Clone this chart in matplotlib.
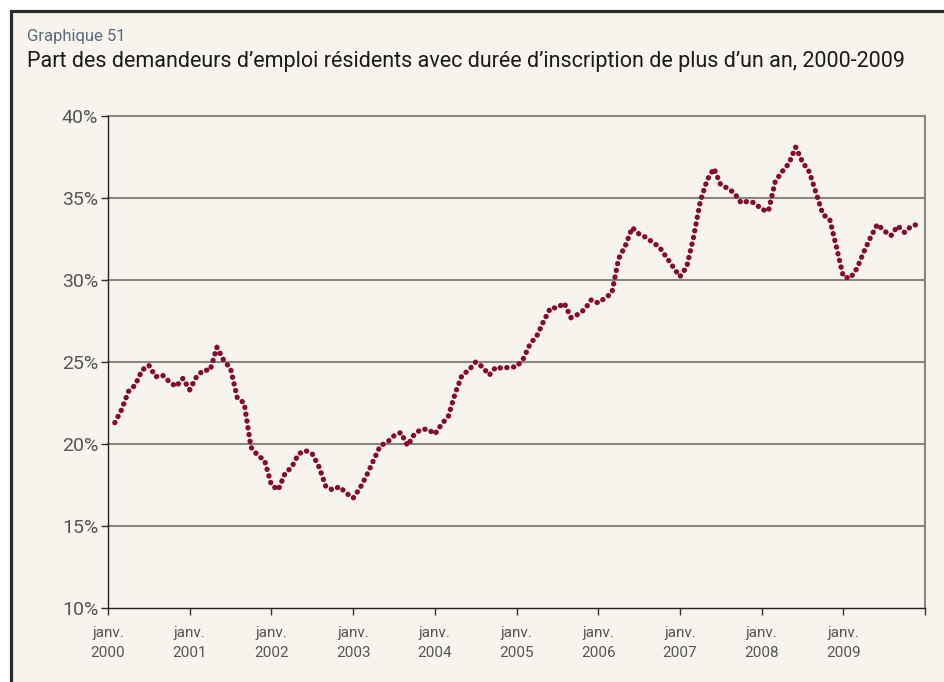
import numpy as np
import matplotlib
matplotlib.use('Agg')
import matplotlib.pyplot as plt
from matplotlib.patches import Rectangle

# Monthly share (%) of resident job seekers registered for more than one year,
# Feb 2000 .. Dec 2009 (month index 1..119, Jan 2000 = 0)
share = [
    21.3, 22.1, 23.2, 23.6, 24.5, 24.8, 24.1, 24.2, 23.8, 23.5, 24.0,   # 2000
    23.3, 24.1, 24.5, 24.5, 25.9, 25.1, 24.6, 22.8, 22.5, 19.8, 19.3, 19.0,  # 2001
    17.5, 17.2, 18.2, 18.6, 19.4, 19.6, 19.4, 18.6, 17.4, 17.2, 17.4, 17.0,  # 2002
    16.7, 17.3, 18.1, 19.0, 19.9, 20.1, 20.5, 20.7, 19.9, 20.6, 20.9, 20.9,  # 2003
    20.6, 21.2, 21.7, 23.1, 24.2, 24.5, 25.0, 24.7, 24.2, 24.7, 24.6, 24.7,  # 2004
    24.7, 25.2, 26.1, 26.6, 27.5, 28.3, 28.3, 28.6, 27.7, 27.9, 28.2, 28.8,  # 2005
    28.6, 28.9, 29.2, 31.3, 32.1, 33.2, 32.8, 32.6, 32.3, 32.0, 31.4, 30.8,  # 2006
    30.2, 30.8, 32.6, 34.8, 36.1, 36.8, 35.8, 35.6, 35.3, 34.7, 34.8, 34.7,  # 2007
    34.3, 34.2, 36.0, 36.6, 37.1, 38.1, 37.2, 36.6, 35.3, 34.0, 33.7, 32.0,  # 2008
    30.2, 30.1, 30.7, 31.7, 32.6, 33.4, 33.0, 32.7, 33.3, 32.9, 33.3, 33.4,  # 2009
]
months = np.arange(1, len(share) + 1)

years = [str(y) for y in range(2000, 2010)]
year_ticks = np.arange(0, 121, 12)
y_ticks = [10, 15, 20, 25, 30, 35, 40]

BG = '#f7f4ee'
LINE = '#850d2b'
GRID = '#8b8680'
TXT = '#555555'

plt.rcParams['font.family'] = ['Roboto', 'DejaVu Sans']

fig = plt.figure(figsize=(9.44, 6.82), dpi=100, facecolor='white')

# framed panel behind everything
frame = Rectangle((10.5 / 944, -0.1), 1.2, 1.1 - 10.5 / 682,
                  transform=fig.transFigure, facecolor=BG,
                  edgecolor='#2b2b2b', linewidth=2.3, zorder=-10)
fig.patches.append(frame)

fig.text(27 / 944, 1 - 37 / 682, 'Graphique 51', color='#5a6b7c',
         fontsize=12, va='center', ha='left')
fig.text(27 / 944, 1 - 62 / 682,
         'Part des demandeurs d\u2019emploi résidents avec durée d\u2019inscription de plus d\u2019un an, 2000-2009',
         color='#1a1a1a', fontsize=15.5, va='center', ha='left')

ax = fig.add_axes([108 / 944, 1 - 608 / 682, 817 / 944, 492 / 682])
ax.set_zorder(5)
ax.set_facecolor(BG)

for v in y_ticks[1:]:
    ax.axhline(v, color=GRID, linewidth=1.5, zorder=1, clip_on=False)

# round-dot line: very short dashes with round caps
ax.plot(months, share, color=LINE, linewidth=3.8,
        linestyle=(0, (0.05, 1.25)), dash_capstyle='round', zorder=3)

ax.set_xlim(0, 120)
ax.set_ylim(10, 40)

ax.set_yticks(y_ticks)
ax.set_yticklabels([f'{v}%' for v in y_ticks])
ax.set_xticks(year_ticks)
ax.set_xticklabels([f'janv.\n{y}' for y in years] + [''], linespacing=1.5)

ax.tick_params(axis='y', length=5, width=1, color='#333333', pad=2,
               labelsize=14, labelcolor=TXT, direction='out')
ax.tick_params(axis='x', length=5, width=1, color='#333333', pad=8,
               labelsize=11, labelcolor=TXT, direction='out')

for side in ('left', 'bottom'):
    ax.spines[side].set_color('#222222')
    ax.spines[side].set_linewidth(1)
ax.spines['right'].set_color(GRID)
ax.spines['right'].set_linewidth(1.5)
ax.spines['top'].set_visible(False)

fig.savefig('out.png', dpi=100, facecolor='white')
